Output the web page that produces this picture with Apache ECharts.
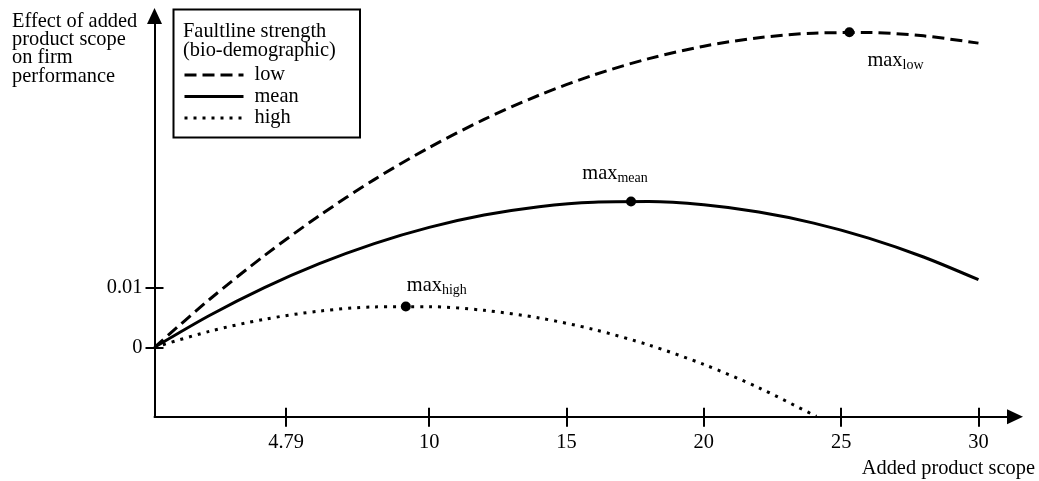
<!DOCTYPE html>
<html>
<head>
<meta charset="utf-8">
<script src="https://cdn.jsdelivr.net/npm/echarts@6/dist/echarts.min.js"></script>
<style>
html,body{margin:0;padding:0;background:#fff;}
#chart{width:1039px;height:481px;}
</style>
</head>
<body>
<div id="chart"></div>
<script>
// ---- data ----
const scopeX = [0, 2, 4, 6, 8, 10, 12, 14, 16, 18, 20, 22, 24, 26, 28, 30];
const lowEffect = [0, 0.00797, 0.01528, 0.02194, 0.02795, 0.03329, 0.03798, 0.04202, 0.0454, 0.04812, 0.05019, 0.0516, 0.05236, 0.05246, 0.05191, 0.0507];
const meanEffect = [0, 0.0053, 0.00995, 0.01394, 0.01729, 0.01999, 0.02204, 0.02344, 0.02419, 0.02429, 0.02374, 0.02254, 0.0207, 0.0182, 0.01505, 0.01126];
const highX = [0, 2, 4, 6, 8, 10, 12, 14, 16, 18, 20, 22, 24, 24.1];
const highEffect = [0, 0.00266, 0.00467, 0.00603, 0.00673, 0.00677, 0.00616, 0.00489, 0.00296, 0.00038, -0.00285, -0.00674, -0.01129, -0.0115];
const peakNames = ['low', 'mean', 'high'];
const peakX = [25.3, 17.35, 9.15];
const peakY = [0.0525, 0.0243, 0.0068];
const xTickValues = [4.79, 10, 15, 20, 25, 30];
const yTickValues = [0, 0.01];
const seriesNames = ['low', 'mean', 'high'];

const FONT = "'Liberation Serif', 'DejaVu Serif', serif";
const FS = 20.4;
const zip = (xs, ys) => xs.map((x, i) => [x, ys[i]]);

const chart = echarts.init(document.getElementById('chart'), null, {renderer: 'canvas'});

const xMin = 0, xMax = 31.33, yMin = -0.01157, yMax = 0.05522;

const peakLabelCfg = {
  low:  {position: 'bottom', align: 'left', offset: [18, 8]},
  mean: {position: 'top', align: 'center', offset: [-16, -6]},
  high: {position: 'top', align: 'left', offset: [1, 1]}
};

const option = {
  animation: false,
  backgroundColor: '#fff',
  grid: {left: 154.5, right: 24, top: 16, bottom: 64.3, containLabel: false},
  xAxis: [
    {
      type: 'value', min: xMin, max: xMax, position: 'bottom',
      axisLine: {show: true, onZero: false, symbol: ['none', 'triangle'], symbolSize: [15, 16],
        lineStyle: {color: '#000', width: 2}},
      axisTick: {show: true, inside: false, length: 10, customValues: xTickValues,
        lineStyle: {color: '#000', width: 2}},
      axisLabel: {show: true, customValues: xTickValues, margin: 16, color: '#000',
        fontFamily: FONT, fontSize: FS, formatter: v => String(v)},
      splitLine: {show: false}
    },
    {
      type: 'value', min: xMin, max: xMax, position: 'bottom',
      axisLine: {show: false, onZero: false},
      axisTick: {show: true, inside: true, length: 9, customValues: xTickValues,
        lineStyle: {color: '#000', width: 2}},
      axisLabel: {show: false},
      splitLine: {show: false}
    }
  ],
  yAxis: [
    {
      type: 'value', min: yMin, max: yMax, position: 'left',
      axisLine: {show: true, onZero: false, symbol: ['none', 'triangle'], symbolSize: [15, 16],
        lineStyle: {color: '#000', width: 2}},
      axisTick: {show: true, inside: false, length: 9, customValues: yTickValues,
        lineStyle: {color: '#000', width: 2}},
      axisLabel: {show: true, customValues: yTickValues, margin: 12, color: '#000',
        fontFamily: FONT, fontSize: FS, formatter: v => String(v)},
      splitLine: {show: false}
    },
    {
      type: 'value', min: yMin, max: yMax, position: 'left',
      axisLine: {show: false, onZero: false},
      axisTick: {show: true, inside: true, length: 9, customValues: yTickValues,
        lineStyle: {color: '#000', width: 2}},
      axisLabel: {show: false},
      splitLine: {show: false}
    }
  ],
  legend: {
    data: seriesNames,
    orient: 'vertical',
    left: 183, top: 65,
    itemWidth: 59, itemHeight: 14, itemGap: 1.5,
    padding: 0,
    selectedMode: false,
    itemStyle: {color: 'rgba(0,0,0,0)', borderWidth: 0, opacity: 0},
    lineStyle: {width: 3},
    textStyle: {fontFamily: FONT, fontSize: FS, color: '#000', lineHeight: 20, padding: [0, 0, 0, 6]}
  },
  graphic: [
    {type: 'rect', shape: {x: 173.5, y: 9.5, width: 186.5, height: 128}, style: {fill: 'none', stroke: '#000', lineWidth: 2}, z: 10},
    {type: 'text', x: 183, y: 22, style: {text: 'Faultline strength\n(bio-demographic)', font: FS + "px " + FONT, fill: '#000', lineHeight: 19}, z: 10},
    {type: 'text', x: 12, y: 12, style: {text: 'Effect of added\nproduct scope\non firm\nperformance', font: FS + "px " + FONT, fill: '#000', lineHeight: 18.4}, z: 10},
    {type: 'text', x: 1035, y: 459, style: {text: 'Added product scope', font: FS + "px " + FONT, fill: '#000', align: 'right'}, z: 10}
  ],
  series: [
    {name: 'low', type: 'line', data: zip(scopeX, lowEffect), smooth: 0.3, symbol: 'none',
      lineStyle: {color: '#000', width: 3, type: [12, 6]}, itemStyle: {color: '#000'}},
    {name: 'mean', type: 'line', data: zip(scopeX, meanEffect), smooth: 0.3, symbol: 'none',
      lineStyle: {color: '#000', width: 3, type: 'solid'}, itemStyle: {color: '#000'}},
    {name: 'high', type: 'line', data: zip(highX, highEffect), smooth: 0.3, symbol: 'none',
      lineStyle: {color: '#000', width: 3, type: [3, 6]}, itemStyle: {color: '#000'}},
    {name: 'maxima', type: 'scatter', symbol: 'circle', symbolSize: 10, z: 5,
      itemStyle: {color: '#000', opacity: 1},
      emphasis: {disabled: true},
      data: peakNames.map((n, i) => ({
        value: [peakX[i], peakY[i]],
        name: n,
        label: Object.assign({show: true}, peakLabelCfg[n])
      })),
      label: {
        show: true, color: '#000', opacity: 1,
        formatter: p => '{m|max}{s|' + p.name + '}',
        rich: {
          m: {fontFamily: FONT, fontSize: FS, color: '#000', lineHeight: 22, verticalAlign: 'top'},
          s: {fontFamily: FONT, fontSize: 14, color: '#000', lineHeight: 22, verticalAlign: 'bottom', padding: [8, 0, 0, 0]}
        }
      }
    }
  ]
};
chart.setOption(option);
</script>
</body>
</html>
